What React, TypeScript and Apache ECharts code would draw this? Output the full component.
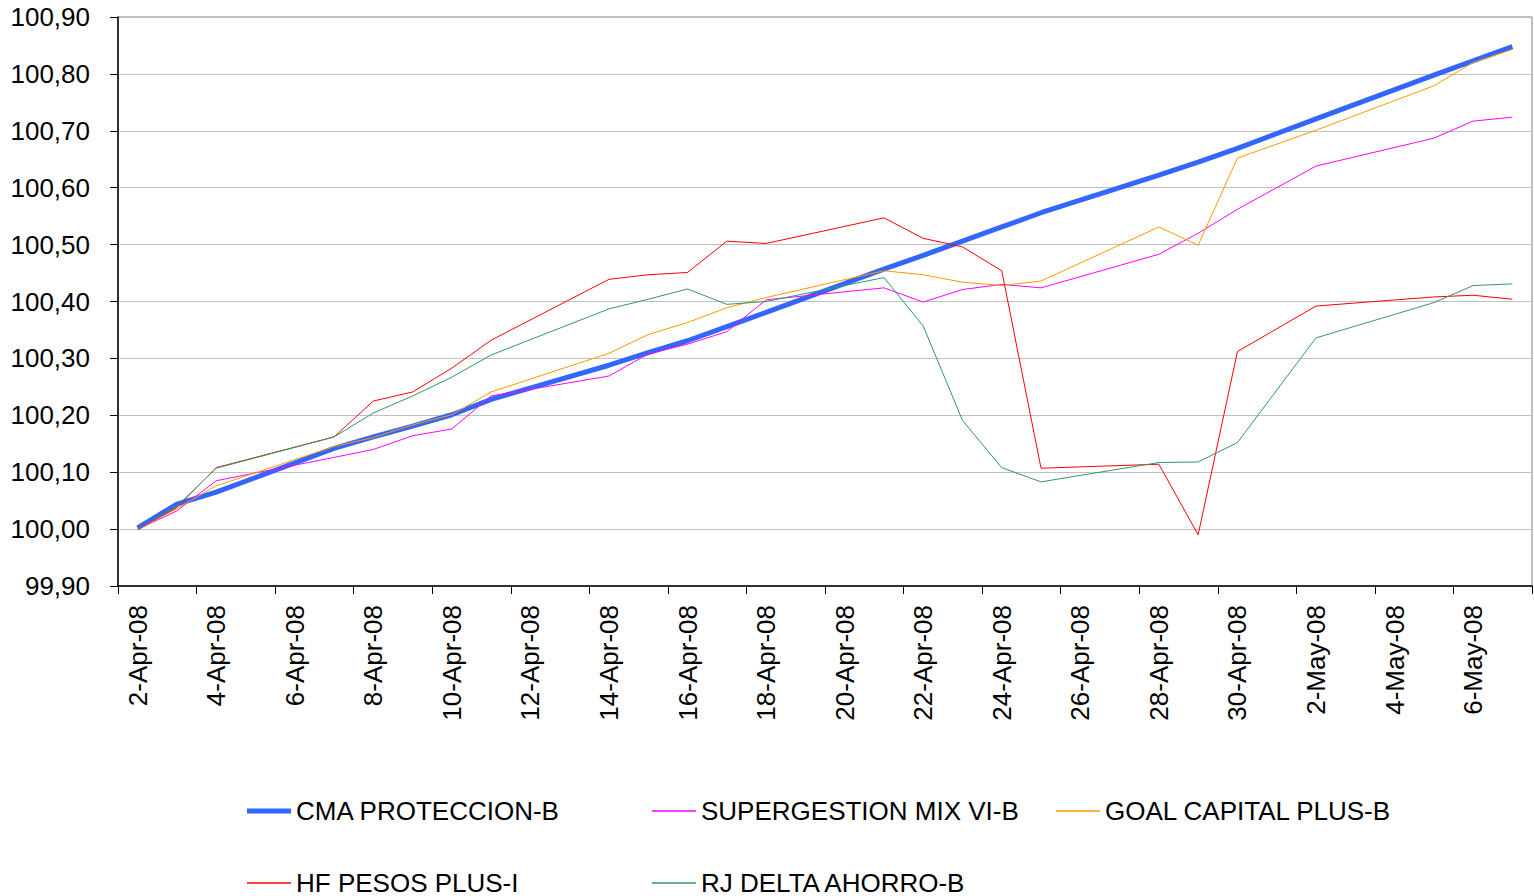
import { useEffect, useRef } from "react";
import * as echarts from "echarts";

const categories = [
  "2-Apr-08", "3-Apr-08", "4-Apr-08", "5-Apr-08", "6-Apr-08", "7-Apr-08", "8-Apr-08", "9-Apr-08",
  "10-Apr-08", "11-Apr-08", "12-Apr-08", "13-Apr-08", "14-Apr-08", "15-Apr-08", "16-Apr-08",
  "17-Apr-08", "18-Apr-08", "19-Apr-08", "20-Apr-08", "21-Apr-08", "22-Apr-08", "23-Apr-08",
  "24-Apr-08", "25-Apr-08", "26-Apr-08", "27-Apr-08", "28-Apr-08", "29-Apr-08", "30-Apr-08",
  "1-May-08", "2-May-08", "3-May-08", "4-May-08", "5-May-08", "6-May-08", "7-May-08",
];

const seriesNames = [
  "CMA PROTECCION-B",
  "SUPERGESTION MIX VI-B",
  "GOAL CAPITAL PLUS-B",
  "HF PESOS PLUS-I",
  "RJ DELTA AHORRO-B",
];

const cmaProteccion = [
  100.002, 100.044, 100.065, null, null, 100.142, 100.162, 100.181, 100.201, 100.228, null, null,
  100.288, 100.31, 100.331, 100.356, 100.381, null, null, 100.457, 100.481, 100.506, 100.531,
  100.556, null, null, 100.622, 100.645, 100.669, null, 100.721, null, null, 100.798, 100.823, 100.848,
];

const supergestion = [
  100.0, 100.032, 100.085, null, null, 100.126, 100.14, 100.164, 100.176, 100.234, null, null,
  100.269, 100.308, 100.325, 100.347, 100.403, null, null, 100.424, 100.399, 100.421, 100.43,
  100.424, null, null, 100.483, 100.52, 100.562, null, 100.638, null, null, 100.687, 100.717, 100.724,
];

const goalCapital = [
  100.0, 100.036, 100.076, null, null, 100.145, 100.161, 100.183, 100.201, 100.241, null, null,
  100.309, 100.342, 100.363, 100.389, 100.407, null, null, 100.454, 100.447, 100.434, 100.428,
  100.436, null, null, 100.531, 100.499, 100.652, null, 100.701, null, null, 100.779, 100.82, 100.843,
];

const hfPesos = [
  100.0, 100.038, 100.108, null, null, 100.162, 100.225, 100.241, 100.283, 100.332, null, null,
  100.439, 100.447, 100.451, 100.506, 100.502, null, null, 100.547, 100.511, 100.496, 100.454,
  100.107, null, null, 100.114, 99.99, 100.312, null, 100.392, null, null, 100.408, 100.411, 100.404,
];

const rjDelta = [
  100.0, 100.04, 100.107, null, null, 100.162, 100.204, 100.234, 100.267, 100.306, null, null,
  100.387, 100.404, 100.422, 100.395, 100.4, null, null, 100.442, 100.357, 100.191, 100.108,
  100.083, null, null, 100.117, 100.118, 100.152, null, 100.336, null, null, 100.398, 100.428, 100.431,
];

const seriesData = [cmaProteccion, supergestion, goalCapital, hfPesos, rjDelta];
const seriesColors = ["#3366FF", "#FF00FF", "#FF9900", "#FF0000", "#339966"];
const seriesWidths = [5, 1, 1, 1, 1];
const legendIconHeights = [5, 1.5, 1.5, 1.5, 1.5];

const FONT = "'Liberation Sans', Arial, sans-serif";

const legendPos = [
  { left: 247, top: 798 },
  { left: 652, top: 798 },
  { left: 1056, top: 798 },
  { left: 247, top: 870 },
  { left: 652, top: 870 },
];

export default function App() {
  const ref = useRef<HTMLDivElement>(null);

  useEffect(() => {
    if (!ref.current) return;
    const chart = echarts.init(ref.current, undefined, { renderer: "svg" });

    const option = {
      animation: false,
      backgroundColor: "#ffffff",
      grid: {
        left: 118,
        top: 17,
        right: 2,
        bottom: 310,
        show: true,
        borderColor: "#808080",
        borderWidth: 1,
        backgroundColor: "transparent",
      },
      legend: seriesNames.map((name, i) => ({
        data: [name],
        left: legendPos[i].left,
        top: legendPos[i].top,
        padding: 0,
        orient: "horizontal",
        icon: "rect",
        itemWidth: 44,
        itemHeight: legendIconHeights[i],
        itemStyle: { color: seriesColors[i], borderWidth: 0 },
        textStyle: { fontSize: 26, color: "#000", fontFamily: FONT },
        selectedMode: false,
      })),
      xAxis: {
        type: "category",
        data: categories,
        boundaryGap: true,
        axisLine: { show: true, lineStyle: { color: "#000", width: 1.5 } },
        axisTick: { show: true, interval: 1, alignWithLabel: false, length: 8, lineStyle: { color: "#000" } },
        axisLabel: {
          interval: 1,
          rotate: 90,
          margin: 19,
          fontSize: 26,
          color: "#000",
          fontFamily: FONT,
        },
        splitLine: { show: false },
      },
      yAxis: {
        type: "value",
        min: 99.9,
        max: 100.9,
        interval: 0.1,
        axisLine: { show: true, lineStyle: { color: "#000", width: 1.5 } },
        axisTick: { show: true, length: 8, lineStyle: { color: "#000" } },
        axisLabel: {
          margin: 28,
          fontSize: 26,
          color: "#000",
          fontFamily: FONT,
          formatter: (v: number) => v.toFixed(2).replace(".", ","),
        },
        splitLine: { show: true, lineStyle: { color: "#c0c0c0", width: 1 } },
      },
      series: seriesNames.map((name, i) => ({
        name,
        type: "line",
        data: seriesData[i],
        connectNulls: true,
        symbol: "none",
        showSymbol: false,
        color: seriesColors[i],
        lineStyle: { color: seriesColors[i], width: seriesWidths[i] },
        emphasis: { disabled: true },
      })),
    };

    chart.setOption(option as any);
    return () => chart.dispose();
  }, []);

  return (
    <div
      ref={ref}
      style={{ position: "fixed", left: 0, top: 0, width: 1534, height: 896, background: "#fff" }}
    />
  );
}
